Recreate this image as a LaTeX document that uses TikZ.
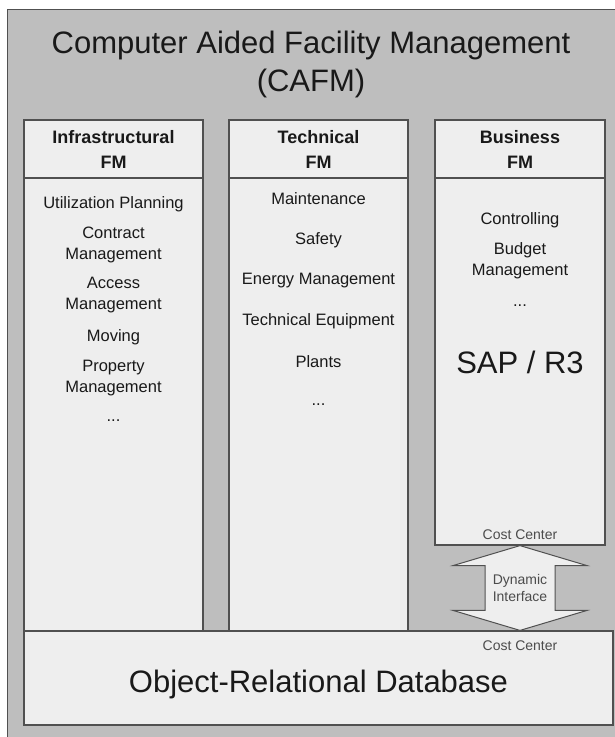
\documentclass[tikz,border=0pt]{standalone}
\usepackage{fontspec}
\setmainfont{Liberation Sans}
\usetikzlibrary{calc}
\definecolor{bg}{RGB}{190,190,190}
\definecolor{pane}{RGB}{238,238,238}
\definecolor{rim}{RGB}{80,80,80}

\begin{document}
\begin{tikzpicture}[
    x=1pt, y=-1pt,
    box/.style={
        draw=rim, fill=pane, line width=1.2pt, inner sep=0pt
    },
    head/.style={
        align=center, text=black!90,
        font=\fontsize{18}{25}\selectfont\bfseries
    },
    item/.style={
        align=center, text=black!90,
        font=\fontsize{16.5}{21}\selectfont
    },
    big/.style={
        align=center, text=black!90,
        font=\fontsize{31}{38}\selectfont
    },
    note/.style={
        align=center, text=black!70,
        font=\fontsize{14}{17}\selectfont
    },
    iface/.style={
        draw=rim, fill=pane, line width=1pt, line join=miter
    }
]
    \useasboundingbox (0,0) rectangle (615,737);
    \fill[bg] (7,9) rectangle (615,737);
    \draw[rim, line width=1pt] (615,9) -- (7,9) -- (7,737);

    \node[big] (title) at (311,64) {Computer Aided Facility Management\\(CAFM)};

    % the three columns
    \node[box, minimum width=179pt, minimum height=453pt] (infrab) at (113.5,404.5) {};
    \node[box, minimum width=179pt, minimum height=58pt] (infrah) at (113.5,149) {};
    \node[box, minimum width=179pt, minimum height=453pt] (techb) at (318.5,404.5) {};
    \node[box, minimum width=179pt, minimum height=58pt] (techh) at (318.5,149) {};
    \node[box, minimum width=170pt, minimum height=367pt] (bizb) at (520,361.5) {};
    \node[box, minimum width=170pt, minimum height=58pt] (bizh) at (520,149) {};

    \node[head] (infrat) at (infrah) {Infrastructural\\FM};
    \node[head] (techt) at (techh) {Technical\\FM};
    \node[head] (bizt) at (bizh) {Business\\FM};

    \node[item] (util) at (113.5,204) {Utilization Planning};
    \node[item] (contract) at (113.5,245) {Contract\\Management};
    \node[item] (access) at (113.5,295.5) {Access\\Management};
    \node[item] (moving) at (113.5,337) {Moving};
    \node[item] (property) at (113.5,378) {Property\\Management};
    \node[item] (infradots) at (113.5,421) {...};

    \node[item] (maint) at (318.5,199) {Maintenance};
    \node[item] (safety) at (318.5,240) {Safety};
    \node[item] (energy) at (318.5,281) {Energy Management};
    \node[item] (equip) at (318.5,321) {Technical Equipment};
    \node[item] (plants) at (318.5,362) {Plants};
    \node[item] (techdots) at (318.5,405) {...};

    \node[item] (ctrl) at (520,220) {Controlling};
    \node[item] (budget) at (520,260.5) {Budget\\Management};
    \node[item] (bizdots) at (520,306) {...};
    \node[big] (sap) at (520,362) {SAP / R3};
    \node[note] (costa) at (520,535) {Cost Center};

    % database
    \node[box, minimum width=589pt, minimum height=94pt] (db) at (318.5,678) {};
    \node[big] (dbt) at (318.5,684) {Object-Relational Database};
    \node[note] (costb) at (520,646) {Cost Center};

    % dynamic interface
    \coordinate (t) at (bizb.south);
    \coordinate (b) at (bizb.south |- db.north);
    \draw[iface] (t) -- ++(-67,20) -- ++(32,0) -- ($(b)+(-35,-20)$)
        -- ++(-32,0) -- (b) -- ++(67,-20) -- ++(-32,0)
        -- ($(t)+(35,20)$) -- ++(32,0) -- cycle;
    \node[note] (dyn) at ($(t)!0.5!(b)$) {Dynamic\\Interface};
\end{tikzpicture}
\end{document}
